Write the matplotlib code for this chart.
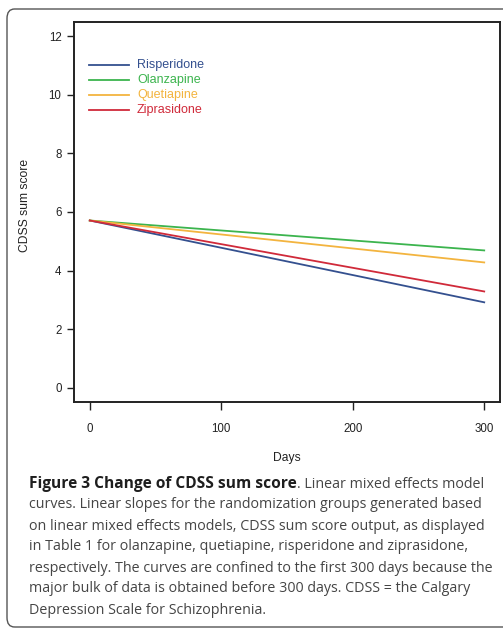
import numpy as np
import matplotlib.pyplot as plt
from matplotlib.patches import FancyBboxPatch

# linear mixed model curves, start and end value (day 0 and day 300)
drugs = ['Risperidone', 'Olanzapine', 'Quetiapine', 'Ziprasidone']
colors = ['#34508f', '#3cb44e', '#f3b43f', '#d02a3a']
days = [0, 300]
start_vals = [5.71, 5.71, 5.71, 5.71]
end_vals = [2.92, 4.69, 4.28, 3.29]

yticks = [0, 2, 4, 6, 8, 10, 12]
xticks = [0, 100, 200, 300]

W, H = 503, 629
fig = plt.figure(figsize=(W / 100, H / 100), dpi=100)

# outer frame of the figure panel
frame = FancyBboxPatch((7 / W, 2 / H), 520 / W, 618 / H,
                       boxstyle='round,pad=0,rounding_size=0.015',
                       transform=fig.transFigure, fill=False,
                       edgecolor='#555555', linewidth=1.0)
fig.patches.append(frame)

ax = fig.add_axes([74 / W, 1 - 402 / H, 426 / W, 380 / H])
for i in range(len(drugs)):
    ax.plot(days, [start_vals[i], end_vals[i]], color=colors[i], lw=1.3)

ax.set_xlim(-12, 312)
ax.set_ylim(-0.48, 12.48)
ax.set_xticks(xticks)
ax.set_yticks(yticks)
for lab in ax.get_xticklabels() + ax.get_yticklabels():
    lab.set_family('Liberation Sans')
    lab.set_fontsize(8.3)
    lab.set_color('#222222')
ax.tick_params(axis='x', length=6, width=1, pad=9, colors='#222222')
ax.tick_params(axis='y', length=5, width=1, pad=4, colors='#222222')
for sp in ax.spines.values():
    sp.set_linewidth(1.4)
    sp.set_color('#222222')

ax.set_xlabel('Days', family='Liberation Sans', fontsize=8.7, color='#222222', labelpad=12)
fig.text(25 / W, 1 - 205 / H, 'CDSS sum score', rotation=90, ha='center', va='center',
         family='Liberation Sans', fontsize=8.7, color='#222222')

# legend drawn by hand to get coloured labels
leg_y = [65, 80, 95, 110]
for i in range(len(drugs)):
    yy = 1 - leg_y[i] / H
    fig.add_artist(plt.Line2D([89 / W, 129 / W], [yy, yy], color=colors[i], lw=1.3,
                              transform=fig.transFigure))
    fig.text(137 / W, yy, drugs[i], color=colors[i], va='center', ha='left',
             family='Liberation Sans', fontsize=9)

# caption
cap_bold = 'Figure 3 Change of CDSS sum score'
cap_first = '. Linear mixed effects model'
cap_rest = ['curves. Linear slopes for the randomization groups generated based',
            'on linear mixed effects models, CDSS sum score output, as displayed',
            'in Table 1 for olanzapine, quetiapine, risperidone and ziprasidone,',
            'respectively. The curves are confined to the first 300 days because the',
            'major bulk of data is obtained before 300 days. CDSS = the Calgary',
            'Depression Scale for Schizophrenia.']
cap_size = 10.3
x0 = 29
y0 = 484
step = 21
t = fig.text(x0 / W, 1 - y0 / H, cap_bold, fontweight='bold', family='Open Sans',
             fontsize=11.2, color='#1e1e1e', va='center', ha='left')
fig.canvas.draw()
bb = t.get_window_extent()
fig.text(bb.x1 / W, 1 - y0 / H, cap_first, family='Open Sans',
         fontsize=cap_size, color='#454545', va='center', ha='left')
for k, line in enumerate(cap_rest):
    fig.text(x0 / W, 1 - (y0 + step * (k + 1)) / H, line, family='Open Sans',
             fontsize=cap_size, color='#454545', va='center', ha='left')

fig.savefig('out.png', dpi=100)
